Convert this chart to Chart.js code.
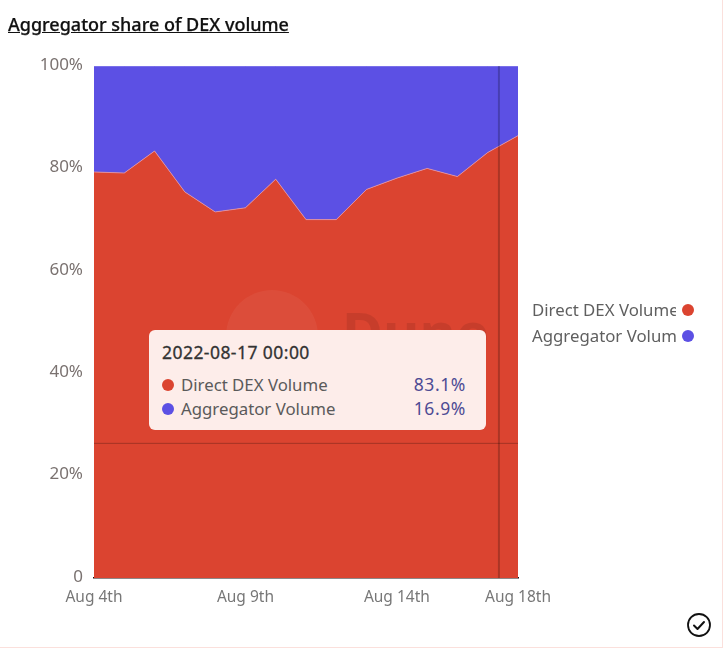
<!DOCTYPE html>
<html>
<head>
<meta charset="utf-8">
<script src="https://cdn.jsdelivr.net/npm/chart.js@4"></script>
<style>
  html, body { margin: 0; padding: 0; background: #fff; overflow: hidden; }
  body { width: 726px; height: 653px; position: relative; font-family: "Noto Sans", sans-serif; }
  #frame { position: absolute; left: 0; top: 0; width: 722px; height: 647px; border-right: 1px solid #fbe0dc; border-bottom: 1px solid #fbe0dc; }
  #title { position: absolute; left: 8px; top: 12px; font-size: 18px; font-weight: 500; color: #111; text-decoration: underline; white-space: nowrap; -webkit-text-stroke: 0.25px #111; }
  #chart { position: absolute; left: 0; top: 0; }
  .legend-row { position: absolute; left: 532px; height: 24px; line-height: 24px; font-size: 16.8px; color: #5f5f5f; }
  .legend-row span { display: block; width: 144px; overflow: hidden; white-space: nowrap; }
  .legend-row i { position: absolute; left: 150px; top: 6px; width: 12px; height: 12px; border-radius: 50%; }
  #tip { position: absolute; left: 149px; top: 330px; width: 337px; height: 100px; background: #fdedea; border-radius: 6px; }
  #tip div { position: absolute; white-space: nowrap; }
  #tip .head { left: 13px; top: 10px; font-size: 17.5px; letter-spacing: 0.45px; color: #333; -webkit-text-stroke: 0.3px #333; }
  #tip .name { left: 32px; font-size: 16.8px; color: #5a5a5a; }
  #tip .val { right: 20px; font-size: 17.5px; letter-spacing: 0.6px; color: #4d4b94; }
  #tip .dot { left: 13px; width: 12px; height: 12px; border-radius: 50%; }
  #check { position: absolute; left: 687px; top: 613px; }
</style>
</head>
<body>
<div id="frame"></div>
<canvas id="chart" width="726" height="653"></canvas>
<div id="title">Aggregator share of DEX volume</div>
<div id="legend"></div>
<div id="tip"></div>
<svg id="check" width="24" height="24" viewBox="0 0 24 24">
  <circle cx="12" cy="12" r="11" fill="none" stroke="#111" stroke-width="1.8"/>
  <path d="M7 12.5l3.5 3.5L17 9" fill="none" stroke="#111" stroke-width="2" stroke-linecap="round" stroke-linejoin="round"/>
</svg>
<script>
const categories = ['Aug 4th', 'Aug 5th', 'Aug 6th', 'Aug 7th', 'Aug 8th', 'Aug 9th', 'Aug 10th', 'Aug 11th', 'Aug 12th', 'Aug 13th', 'Aug 14th', 'Aug 15th', 'Aug 16th', 'Aug 17th', 'Aug 18th'];
const shownLabels = ['Aug 4th', 'Aug 9th', 'Aug 14th', 'Aug 18th'];
const tooltipDates = { 'Aug 17th': '2022-08-17 00:00' };
const directDex = [79.3, 79.1, 83.4, 75.4, 71.5, 72.3, 77.9, 70.0, 70.0, 75.9, 78.1, 80.0, 78.4, 83.1, 86.4];
const aggregator = [20.7, 20.9, 16.6, 24.6, 28.5, 27.7, 22.1, 30.0, 30.0, 24.1, 21.9, 20.0, 21.6, 16.9, 13.6];

const RED = '#db4430';
const PURPLE = '#5c50e4';
const hoverIndex = 13;
// pointer position of the crosshair, in axis units
const crossX = 13.37;
const crossY = 26.3;
const fontFamily = '"Noto Sans", sans-serif';

// faded logo behind the tooltip and the crosshair lines
const overlay = {
  id: 'overlay',
  afterDatasetsDraw(chart) {
    const c = chart.ctx, a = chart.chartArea, xs = chart.scales.x, ys = chart.scales.y;
    c.save();
    c.fillStyle = 'rgba(255,255,255,0.05)';
    c.beginPath();
    c.arc(272, 336, 46, 0, Math.PI * 2);
    c.fill();
    c.fillStyle = 'rgba(0,0,0,0.09)';
    c.font = '700 56px ' + fontFamily;
    c.textBaseline = 'alphabetic';
    c.fillText('Dune', 342, 353);

    c.strokeStyle = 'rgba(0,0,0,0.25)';
    c.lineWidth = 1;
    c.beginPath();
    c.moveTo(a.left, ys.getPixelForValue(crossY));
    c.lineTo(a.right, ys.getPixelForValue(crossY));
    c.stroke();
    c.strokeStyle = 'rgba(0,0,0,0.22)';
    c.lineWidth = 2;
    c.beginPath();
    c.moveTo(xs.getPixelForValue(crossX), a.top);
    c.lineTo(xs.getPixelForValue(crossX), a.bottom);
    c.stroke();
    c.restore();
  }
};

function drawTip(context) {
  const t = context.tooltip;
  if (!t.dataPoints || !t.dataPoints.length) return;
  const box = document.getElementById('tip');
  const first = t.dataPoints[0];
  let html = '<div class="head">' + tooltipDates[first.label] + '</div>';
  t.dataPoints.forEach(function (p, i) {
    const top = 43 + i * 24;
    html += '<div class="dot" style="top:' + (top + 6) + 'px;background:' + p.dataset.backgroundColor + '"></div>';
    html += '<div class="name" style="top:' + top + 'px">' + p.dataset.label + '</div>';
    html += '<div class="val" style="top:' + (top - 1) + 'px">' + p.parsed.y.toFixed(1) + '%</div>';
  });
  box.innerHTML = html;
}

const chart = new Chart(document.getElementById('chart').getContext('2d'), {
  type: 'line',
  data: {
    labels: categories,
    datasets: [
      { label: 'Direct DEX Volume', data: directDex, backgroundColor: RED, borderColor: 'rgba(226,150,170,0.8)', borderWidth: 1, fill: 'origin', pointRadius: 0, tension: 0 },
      { label: 'Aggregator Volume', data: aggregator, backgroundColor: PURPLE, borderColor: 'rgba(160,150,240,0.9)', borderWidth: 1, fill: '-1', pointRadius: 0, tension: 0 }
    ]
  },
  options: {
    responsive: false,
    animation: false,
    events: [],
    layout: { padding: { left: 0, right: 208, top: 66, bottom: 0 } },
    interaction: { mode: 'index', intersect: false },
    plugins: {
      legend: { display: false },
      title: { display: false },
      tooltip: { enabled: false, external: drawTip }
    },
    scales: {
      x: {
        grid: { display: false, drawTicks: false },
        border: { color: '#1a1010', width: 1.5 },
        ticks: {
          autoSkip: false,
          maxRotation: 0,
          padding: 10,
          color: '#777',
          font: { family: fontFamily, size: 15.5 },
          callback(v) {
            const label = this.getLabelForValue(v);
            return shownLabels.includes(label) ? label : null;
          }
        },
        afterFit(s) { s.height = 75; }
      },
      y: {
        stacked: true,
        min: 0,
        max: 100,
        grid: { display: false, drawTicks: false },
        border: { display: false },
        ticks: {
          stepSize: 20,
          padding: 11,
          labelOffset: -1,
          color: '#7a7270',
          font: { family: fontFamily, size: 17 },
          callback: v => v === 0 ? '0' : v + '%'
        },
        afterFit(s) { s.width = 94; }
      }
    }
  },
  plugins: [overlay]
});

chart.data.datasets.forEach(function (d, i) {
  const row = document.createElement('div');
  row.className = 'legend-row';
  row.style.top = (298 + i * 26) + 'px';
  row.innerHTML = '<span>' + d.label + '</span><i style="background:' + d.backgroundColor + '"></i>';
  document.getElementById('legend').appendChild(row);
});

chart.tooltip.setActiveElements(
  [{ datasetIndex: 0, index: hoverIndex }, { datasetIndex: 1, index: hoverIndex }],
  { x: chart.scales.x.getPixelForValue(crossX), y: chart.scales.y.getPixelForValue(crossY) }
);
chart.update();
</script>
</body>
</html>
